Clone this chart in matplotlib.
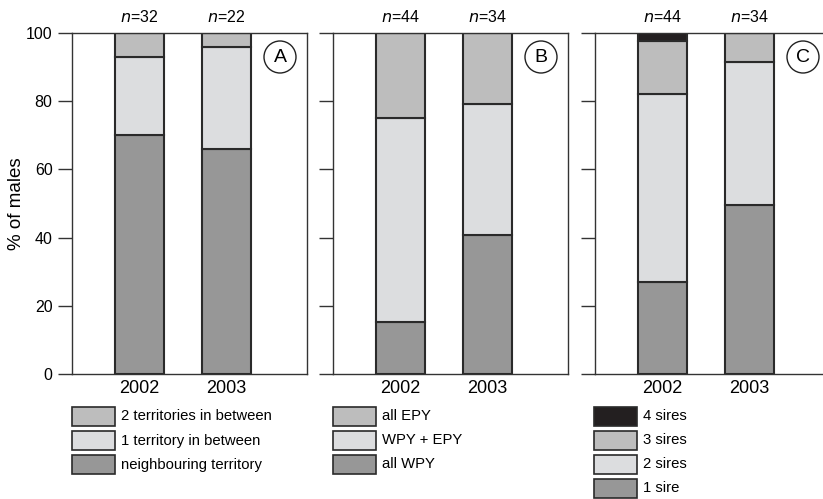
import matplotlib
matplotlib.use("Agg")
import matplotlib.pyplot as plt
from matplotlib.patches import Rectangle, Ellipse

plt.rcParams['font.family'] = ['Liberation Sans', 'DejaVu Sans']

years = ["2002", "2003"]

# Panel A
a_labels = ["neighbouring territory", "1 territory in between", "2 territories in between"]
a_vals = [[70, 66], [23, 30], [7, 4]]
a_n = [32, 22]

# Panel B
b_labels = ["all WPY", "WPY + EPY", "all EPY"]
b_vals = [[15.3, 40.8], [59.7, 38.4], [25.0, 20.8]]
b_n = [44, 34]

# Panel C
c_labels = ["1 sire", "2 sires", "3 sires", "4 sires"]
c_vals = [[27, 49.6], [55, 41.9], [15.6, 8.5], [2.4, 0]]
c_n = [44, 34]

panel_letters = ["A", "B", "C"]

col_dark = "#979797"
col_light = "#dcdddf"
col_mid = "#bdbdbd"
col_black = "#231f20"
edge = "#2a2a2a"

colors3 = [col_dark, col_light, col_mid]
colors4 = [col_dark, col_light, col_mid, col_black]

W, H = 823, 499
fig = plt.figure(figsize=(W / 100, H / 100), dpi=100)

lefts = [72, 333, 595]
axw = 235
top_px, bot_px = 33, 374

panels = [
    (a_labels, a_vals, a_n, colors3),
    (b_labels, b_vals, b_n, colors3),
    (c_labels, c_vals, c_n, colors4),
]

x = [0, 1]
bw = 0.563
for i, (labels, vals, ns, cols) in enumerate(panels):
    ax = fig.add_axes([lefts[i] / W, 1 - bot_px / H, axw / W, (bot_px - top_px) / H])
    bottom = [0, 0]
    for lab, v, c in zip(labels, vals, cols):
        ax.bar(x, v, bw, bottom=bottom, color=c, edgecolor=edge, linewidth=1.5, zorder=2)
        bottom = [b + vv for b, vv in zip(bottom, v)]
    ax.set_xlim(-0.776, 1.925)
    ax.set_ylim(0, 100)
    ax.set_xticks(x)
    ax.set_xticklabels(years, fontsize=13)
    ax.tick_params(axis='x', length=0, pad=4)
    ax.set_yticks([0, 20, 40, 60, 80, 100])
    ax.tick_params(axis='y', direction='out', length=10, width=1, color='#333333', labelsize=11.5, pad=4)
    if i > 0:
        ax.set_yticklabels([])
    for s in ax.spines.values():
        s.set_color('#333333')
        s.set_linewidth(1.0)
    for xi, n in zip(x, ns):
        ax.annotate(r"$\it{n}$=" + str(n), (xi, 100), xytext=(0, 6), textcoords='offset points',
                    ha='center', va='bottom', fontsize=11.5)
    # panel letter in a circle
    cxp = lefts[i] + 208
    cyp = H - 57
    fig.patches.append(Ellipse((cxp / W, cyp / H), 32 / W, 32 / H, transform=fig.transFigure,
                               fill=False, edgecolor='#222222', linewidth=1.0))
    fig.text(cxp / W, cyp / H, panel_letters[i], ha='center', va='center', fontsize=14)
    if i == 0:
        ax.set_ylabel("% of males", fontsize=13.5, va='center')
        ax.yaxis.set_label_coords((17 - 72) / axw, 0.5)

# legends
leg_lefts = [72, 333, 594]
row0 = 407
for i, (labels, vals, ns, cols) in enumerate(panels):
    labs = list(reversed(labels))
    cs = list(reversed(cols))
    for r, (lab, c) in enumerate(zip(labs, cs)):
        y0 = row0 + r * 24
        rect = Rectangle((leg_lefts[i] / W, 1 - (y0 + 19) / H), 43 / W, 19 / H,
                         transform=fig.transFigure, facecolor=c, edgecolor=edge, linewidth=1.2)
        fig.patches.append(rect)
        fig.text((leg_lefts[i] + 49) / W, 1 - (y0 + 9.5) / H, lab, ha='left', va='center',
                 fontsize=10.7)

fig.savefig("out.png", dpi=100)
